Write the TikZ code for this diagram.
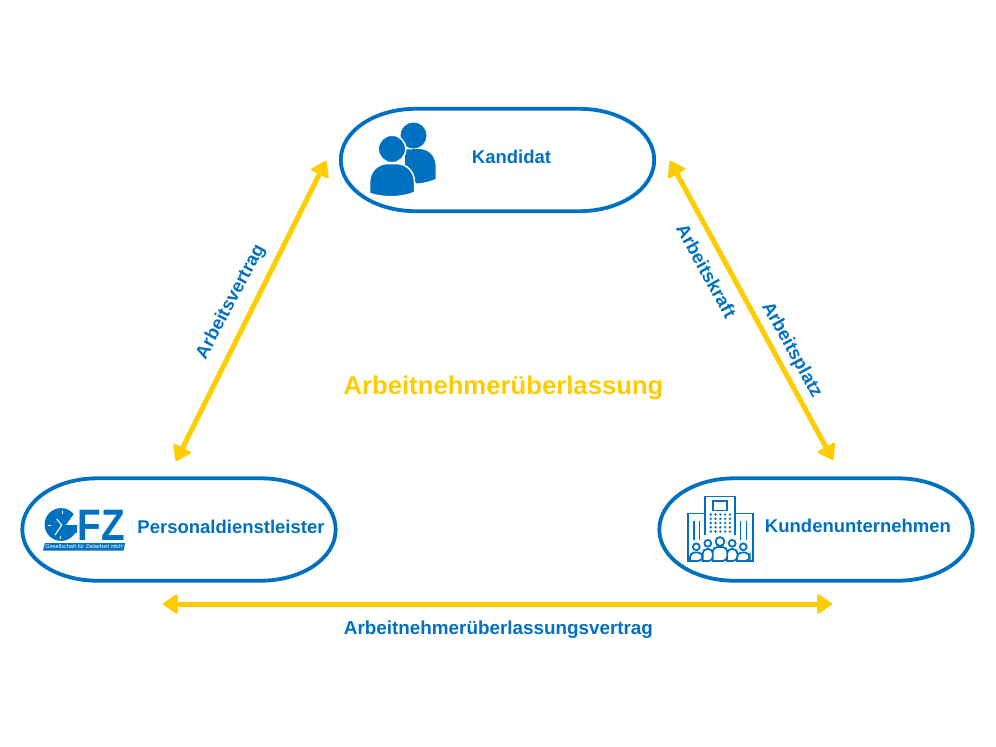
\documentclass[tikz,border=0pt]{standalone}
\usepackage{fontspec}
\setmainfont{Liberation Sans}
\usetikzlibrary{arrows.meta,calc}
\definecolor{gfzblue}{RGB}{0,112,192}
\definecolor{gfzyellow}{RGB}{255,204,0}
\tikzset{
  partybox/.style={minimum width=313pt,minimum height=102pt,inner sep=0pt},
  partyline/.style={draw=gfzblue,line width=3.8pt},
  partylabel/.style={text=gfzblue,font=\fontsize{18.5}{20}\selectfont\bfseries,inner sep=0pt},
  linkarrow/.style={draw=gfzyellow,line width=5pt,{Triangle[length=16pt,width=21pt,round,line width=2.5pt]}-{Triangle[length=16pt,width=21pt,round,line width=2.5pt]}},
}
\begin{document}
\begin{tikzpicture}[x=1pt,y=-1pt]
  \useasboundingbox (0,0) rectangle (996,747);
  \node[partybox] (candidate) at (497.5,160) {};
  \node[partybox] (agency) at (179,529.5) {};
  \node[partybox] (client) at (816,529.5) {};
  \foreach \n in {candidate,agency,client} {
    \draw[partyline] (\n.west) .. controls ($(\n.west)+(0,-29)$) and ($(\n.north west)+(34,0)$) .. ($(\n.north west)+(75,0)$)
      -- ($(\n.north east)+(-75,0)$) .. controls ($(\n.north east)+(-34,0)$) and ($(\n.east)+(0,-29)$) .. (\n.east)
      .. controls ($(\n.east)+(0,29)$) and ($(\n.south east)+(-34,0)$) .. ($(\n.south east)+(-75,0)$)
      -- ($(\n.south west)+(75,0)$) .. controls ($(\n.south west)+(34,0)$) and ($(\n.west)+(0,29)$) .. (\n.west) -- cycle;
  }
  \node[partylabel] (candidatetext) at (511.5,157) {Kandidat};
  \node[partylabel] (agencytext) at (231,527) {Personaldienstleister};
  \node[partylabel] (clienttext) at (858,526) {Kundenunternehmen};

  \coordinate (candidateL) at (326,161);
  \coordinate (agencyT) at (176,461);
  \coordinate (candidateR) at (670,161);
  \coordinate (clientT) at (833,460);
  \coordinate (agencyB) at (163,604);
  \coordinate (clientB) at (832,604);
  \draw[linkarrow] (candidateL) -- (agencyT);
  \draw[linkarrow] (candidateR) -- (clientT);
  \draw[linkarrow] (agencyB) -- (clientB);

  \node[partylabel,rotate=62] (contract) at (231,302) {Arbeitsvertrag};
  \node[partylabel,rotate=-61] (labour) at (706.5,271) {Arbeitskraft};
  \node[partylabel,rotate=-61] (workplace) at (791.5,350) {Arbeitsplatz};
  \node[partylabel,font=\fontsize{18.85}{20}\selectfont\bfseries] (leasing) at (498.5,630) {Arbeitnehmerüberlassungsvertrag};
  \node[text=gfzyellow,font=\fontsize{25.7}{28}\selectfont\bfseries,inner sep=0pt] (title) at (503.5,388) {Arbeitnehmerüberlassung};

  % people
  \fill[gfzblue] (413.5,135.5) circle (13);
  \fill[gfzblue] (405,149.5) -- (420,149) .. controls (431,150) and (435.7,158) .. (435.7,168)
    -- (435.7,179) .. controls (430,181) and (424,183) .. (417,183.5) -- (405,175) -- cycle;
  \fill[gfzblue,draw=white,line width=1.5pt] (392,149) circle (13.8);
  \fill[gfzblue,draw=white,line width=1.5pt] (369.6,193.5) -- (369.6,182) .. controls (369.6,171) and (378,163.5) .. (388,163.5)
    -- (396,163.5) .. controls (406,163.5) and (414.5,171) .. (414.5,182)
    -- (414.5,192.5) .. controls (400,198) and (384,198) .. (369.6,193.5) -- cycle;

  % logo
  \fill[gfzblue] (61,524.5) circle (16.4);
  \fill[white] (66,525) -- (74,514) -- (82,504) -- (82,525) -- cycle;
  \fill[gfzblue] (67,525) rectangle (77.4,533);
  \draw[white,line width=1.1pt] (56.7,519) -- (61.7,525) -- (55,535);
  \draw[white,line width=1pt] (47.5,525) -- (50.5,525);
  \draw[white,line width=1pt] (62,510.5) -- (62,513.5);
  \draw[white,line width=1pt] (60.7,535.5) -- (60.7,538.5);
  \node[text=gfzblue,font=\fontsize{44}{44}\selectfont\bfseries,xscale=0.88,inner sep=0pt] (logotext) at (101.5,525) {FZ};
  \fill[gfzblue] (45,543) -- (125,543) -- (123.5,550.5) -- (43,550.5) -- cycle;
  \node[text=white,font=\fontsize{5.6}{5}\selectfont,inner sep=0pt] (logoband) at (84,546.8) {Gesellschaft für Zeitarbeit mbH};

  % building
  \begin{scope}[gfzblue,line width=1.8pt]
    \draw (705,535) -- (705,496.5) -- (735,496.5) -- (735,535);
    \draw (705,513.5) -- (687.6,513.5) -- (687.6,561) -- (695,561);
    \draw (735,513.5) -- (752.6,513.5) -- (752.6,561) -- (745,561);
    \draw (712.7,500.7) rectangle (727.3,510.5);
    \foreach \x in {694,699.5,740.5,746.5} { \draw (\x,520.5) -- (\x,540); }
    \foreach \x in {710.7,715.5,720.3,725.1,729.9} {
      \foreach \y in {514.5,518.8,523,527.3,531.5} {
        \fill (\x,\y) circle (1.3);
      }
    }
    \foreach \x/\w/\t/\h/\r in {696.3/6.3/552.5/546.8/3.4,743.3/6.3/552.5/546.8/3.4,707.8/5.2/549/543.3/3.4,732.2/5.2/549/543.3/3.4,720/7.2/547/541.5/4.4} {
      \draw[fill=white,rounded corners=4.5pt] (\x-\w,561) -- (\x-\w,\t) -- (\x+\w,\t) -- (\x+\w,561) [sharp corners] -- cycle;
      \draw[fill=white] (\x,\h) circle (\r);
    }
  \end{scope}
\end{tikzpicture}
\end{document}
